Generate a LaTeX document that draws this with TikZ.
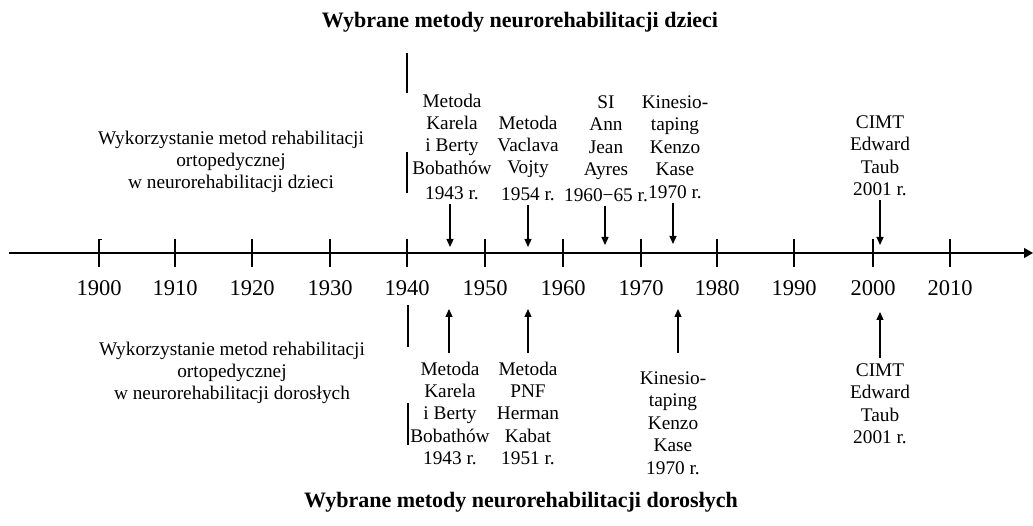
\documentclass[tikz,border=0pt]{standalone}
\usepackage{fontspec}
\setmainfont{Liberation Serif}
\usetikzlibrary{arrows.meta}
\begin{document}
\begin{tikzpicture}[x=1pt,y=-1pt,
  lbl/.style={font=\fontsize{19.3}{22.4}\selectfont, align=center, inner xsep=0pt, inner ysep=4pt, anchor=north},
  yr/.style={font=\fontsize{22.5}{24}\selectfont, inner sep=0pt},
  ttl/.style={font=\fontsize{22}{26}\selectfont\bfseries, inner sep=0pt},
  ln/.style={line width=1.2pt},
  arr/.style={line width=1.2pt, -{Triangle[length=8pt,width=7pt]}},
  axarr/.style={line width=1.2pt, -{Triangle[length=9pt,width=10pt]}},
]
\useasboundingbox (0,0) rectangle (1033,526);

% titles
\node[ttl] (ttlT) at (520,22) {Wybrane metody neurorehabilitacji dzieci};
\node[ttl] (ttlB) at (521,502) {Wybrane metody neurorehabilitacji dorosłych};

% axis
\coordinate (axL) at (9,253);
\coordinate (axR) at (1033,253);
\draw[axarr] (axL) -- (axR);

% ticks and years
\foreach \yv/\xv in {1900/99,1910/175,1920/252,1930/330,1940/407,1950/485,1960/563,1970/641,1980/717,1990/794,2000/873,2010/950}{
  \coordinate (t\yv a) at (\xv,239);
  \coordinate (t\yv b) at (\xv,267);
  \draw[ln] (t\yv a) -- (t\yv b);
  \node[yr] (y\yv) at (\xv,288) {\yv};
}
\coordinate (hook) at (102,239);
\draw[line width=0.8pt] (t1900a) -- (hook);

% side texts
\node[lbl] (leftT) at (231,126.5) {Wykorzystanie metod rehabilitacji\\ortopedycznej\\w neurorehabilitacji dzieci};
\node[lbl] (leftB) at (232,337.5) {Wykorzystanie metod rehabilitacji\\ortopedycznej\\w neurorehabilitacji dorosłych};

% vertical bars at 1940
\coordinate (v1a) at (407,53);  \coordinate (v1b) at (407,93);
\coordinate (v2a) at (407,152); \coordinate (v2b) at (407,193);
\coordinate (v3a) at (408,305); \coordinate (v3b) at (408,347);
\coordinate (v4a) at (408,403); \coordinate (v4b) at (408,445);
\draw[ln] (v1a) -- (v1b);
\draw[ln] (v2a) -- (v2b);
\draw[ln] (v3a) -- (v3b);
\draw[ln] (v4a) -- (v4b);

% top labels
\node[lbl] (bobT) at (452,89.5) {Metoda\\Karela\\i Berty\\Bobathów\\[3pt]1943 r.};
\node[lbl] (vojT) at (528,111.5) {Metoda\\Vaclava\\Vojty\\[4pt]1954 r.};
\node[lbl] (siT)  at (606,91.5) {SI\\Ann\\Jean\\Ayres\\[3pt]1960−65 r.};
\node[lbl] (kinT) at (675,91.5) {Kinesio-\\taping\\Kenzo\\Kase\\1970 r.};
\node[lbl] (cimT) at (880,111.5) {CIMT\\Edward\\Taub\\2001 r.};

\coordinate (bobTtip) at (450,247);
\coordinate (vojTtip) at (528,247);
\coordinate (siTtip)  at (605,245);
\coordinate (kinTtip) at (673,244);
\coordinate (cimTtip) at (880,245);
\draw[arr] ([xshift=-2pt]bobT.south) -- (bobTtip);
\draw[arr] (vojT.south) -- (vojTtip);
\draw[arr] ([xshift=-1pt]siT.south) -- (siTtip);
\draw[arr] ([xshift=-2pt]kinT.south) -- (kinTtip);
\draw[arr] (cimT.south) -- (cimTtip);

% bottom labels
\node[lbl] (bobB) at (450,357.5) {Metoda\\Karela\\i Berty\\Bobathów\\1943 r.};
\node[lbl] (pnfB) at (528,357.5) {Metoda\\PNF\\Herman\\Kabat\\1951 r.};
\node[lbl] (kinB) at (673,367.5) {Kinesio-\\taping\\Kenzo\\Kase\\1970 r.};
\node[lbl] (cimB) at (880,359.5) {CIMT\\Edward\\Taub\\2001 r.};

\coordinate (bobBtip) at (449,309);
\coordinate (pnfBtip) at (528,309);
\coordinate (kinBtip) at (678,309);
\coordinate (cimBtip) at (880,312);
\draw[arr] ([xshift=-1pt,yshift=4.5pt]bobB.north) -- (bobBtip);
\draw[arr] ([yshift=4.5pt]pnfB.north) -- (pnfBtip);
\draw[arr] ([xshift=5pt,yshift=14.5pt]kinB.north) -- (kinBtip);
\draw[arr] ([yshift=1.5pt]cimB.north) -- (cimBtip);
\end{tikzpicture}
\end{document}
